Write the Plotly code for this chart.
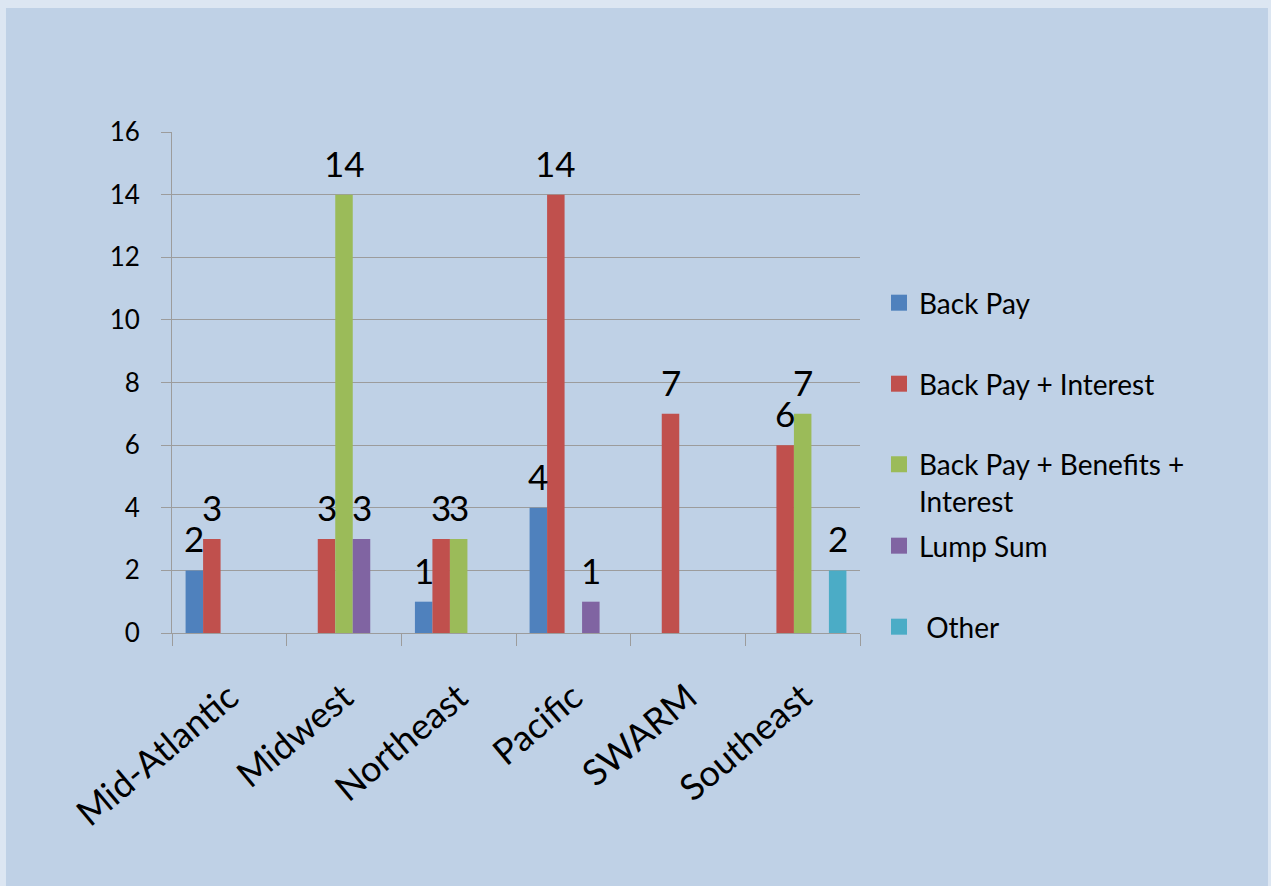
import plotly.graph_objects as go

regions = ['Mid-Atlantic', 'Midwest', 'Northeast', 'Pacific', 'SWARM', 'Southeast']

back_pay = [2, None, 1, 4, None, None]
back_pay_interest = [3, 3, 3, 14, 7, 6]
back_pay_benefits_interest = [None, 14, 3, None, None, 7]
lump_sum = [None, 3, None, 1, None, None]
other = [None, None, None, None, None, 2]

series_names = ['Back Pay', 'Back Pay + Interest', 'Back Pay + Benefits +<br>Interest', 'Lump Sum', ' Other']
series_values = [back_pay, back_pay_interest, back_pay_benefits_interest, lump_sum, other]
colors = ['#4F81BD', '#C0504D', '#9BBB59', '#8064A2', '#4BACC6']

y_ticks = [0, 2, 4, 6, 8, 10, 12, 14, 16]

FONT = 'Lato, "Open Sans", sans-serif'
GRID = '#9C9C9C'
BARGAP = 0.237

fig = go.Figure()

legend_ids = ['legend', 'legend2', 'legend3', 'legend4', 'legend5']
legend_y = [0.6587, 0.497, 0.3004, 0.1737, 0.012]

n = len(series_values)
bar_w = (1 - BARGAP) / n
labels = []

for i, (name, vals, col, lg) in enumerate(zip(series_names, series_values, colors, legend_ids)):
    fig.add_trace(go.Bar(
        x=regions,
        y=vals,
        name=name,
        marker_color=col,
        marker_line_width=0,
        legendgroup=name,
        showlegend=False,
    ))
    # legend entry with a bigger square symbol
    fig.add_trace(go.Scatter(
        x=[None], y=[None],
        mode='markers',
        name=name,
        marker=dict(symbol='square', size=16, color=col),
        legendgroup=name,
        legend=lg,
        showlegend=True,
    ))
    # value labels sitting above each bar of the group
    for j, v in enumerate(vals):
        if v is None:
            continue
        labels.append(dict(
            x=j + (i - (n - 1) / 2) * bar_w, y=v,
            xref='x', yref='y',
            text=str(v), showarrow=False,
            yanchor='bottom', yshift=9,
            font=dict(size=35, color='black', family=FONT),
        ))

legend_common = dict(
    x=1.0276,
    xanchor='left',
    yanchor='middle',
    bgcolor='rgba(0,0,0,0)',
    font=dict(size=28, color='black', family=FONT),
    itemsizing='trace',
)

layout_legends = {}
for lg, ly in zip(legend_ids, legend_y):
    d = dict(legend_common, y=ly)
    if lg == 'legend3':
        d['valign'] = 'top'
    layout_legends[lg] = d

fig.update_layout(
    width=1271,
    height=886,
    margin=dict(l=172, r=411, t=132, b=253),
    paper_bgcolor='#DCE6F2',
    plot_bgcolor='rgba(0,0,0,0)',
    barmode='group',
    bargap=BARGAP,
    bargroupgap=0,
    font=dict(family=FONT, color='black'),
    xaxis=dict(
        showgrid=False,
        showline=True,
        linecolor=GRID,
        linewidth=1,
        ticks='outside',
        tickson='boundaries',
        ticklen=12,
        tickcolor=GRID,
        tickangle=-40,
        tickfont=dict(size=36, color='black', family=FONT),
        ticklabelstandoff=28,
    ),
    yaxis=dict(
        range=[0, 16],
        tickvals=y_ticks,
        showgrid=True,
        gridcolor=GRID,
        gridwidth=1,
        zeroline=False,
        showline=True,
        linecolor=GRID,
        linewidth=1,
        ticks='outside',
        ticklen=10,
        tickcolor=GRID,
        tickfont=dict(size=26, color='black', family=FONT),
        ticklabelstandoff=16,
    ),
    shapes=[dict(
        type='rect', xref='paper', yref='paper',
        x0=-0.2413, x1=1.5930, y0=-0.52, y1=1.2475,
        fillcolor='#BFD1E6', line_width=0, layer='below',
    )],
    annotations=labels,
    **layout_legends,
)

fig.write_html("out.html", config={'displayModeBar': False},
               post_script="document.body.style.margin='0';")
